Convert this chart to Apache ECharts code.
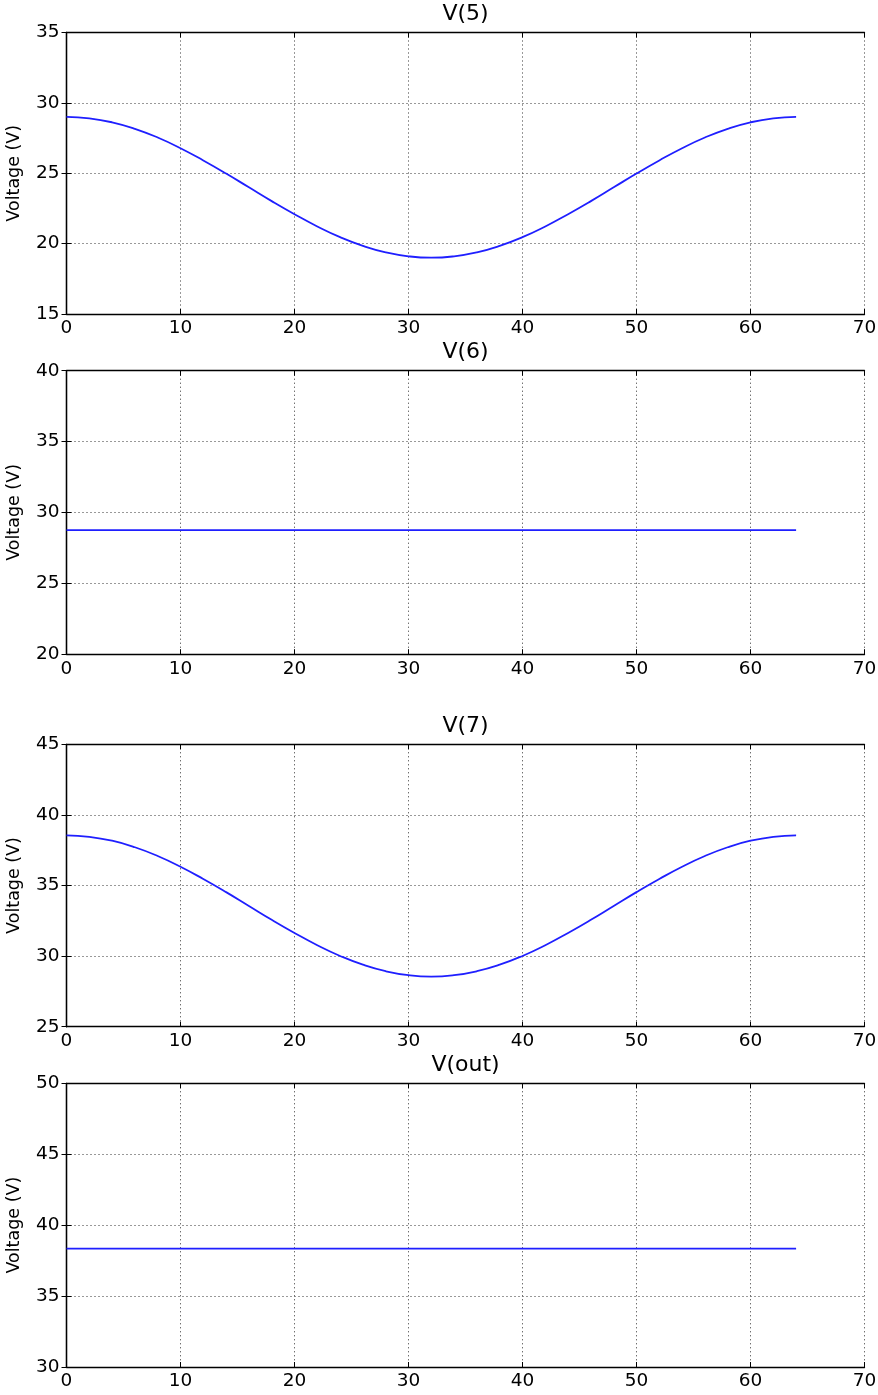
<!DOCTYPE html>
<html>
<head>
<meta charset="utf-8">
<title>Node voltages</title>
<script src="https://cdn.jsdelivr.net/npm/echarts@6/dist/echarts.min.js"></script>
<style>
  html, body { margin: 0; padding: 0; background: #fff; }
  #main { width: 878px; height: 1395px; }
</style>
</head>
<body>
<div id="main"></div>
<script>
// time samples (x axis)
var times = [0, 2, 4, 6, 8, 10, 12, 14, 16, 18, 20, 22, 24, 26, 28, 30, 32,
  34, 36, 38, 40, 42, 44, 46, 48, 50, 52, 54, 56, 58, 60, 62, 64];

// V(5)
var v5 = [29.00, 28.90, 28.62, 28.16, 27.54, 26.78, 25.91, 24.98, 24.00, 23.02,
  22.09, 21.22, 20.46, 19.84, 19.38, 19.10, 19.00, 19.10, 19.38, 19.84, 20.46,
  21.22, 22.09, 23.02, 24.00, 24.98, 25.91, 26.78, 27.54, 28.16, 28.62, 28.90, 29.00];

// V(6)
var v6 = [28.75, 28.75, 28.75, 28.75, 28.75, 28.75, 28.75, 28.75, 28.75, 28.75,
  28.75, 28.75, 28.75, 28.75, 28.75, 28.75, 28.75, 28.75, 28.75, 28.75, 28.75,
  28.75, 28.75, 28.75, 28.75, 28.75, 28.75, 28.75, 28.75, 28.75, 28.75, 28.75, 28.75];

// V(7)
var v7 = [38.55, 38.45, 38.17, 37.71, 37.09, 36.33, 35.46, 34.53, 33.55, 32.57,
  31.64, 30.77, 30.01, 29.39, 28.93, 28.65, 28.55, 28.65, 28.93, 29.39, 30.01,
  30.77, 31.64, 32.57, 33.55, 34.53, 35.46, 36.33, 37.09, 37.71, 38.17, 38.45, 38.55];

// V(out)
var vout = [38.35, 38.35, 38.35, 38.35, 38.35, 38.35, 38.35, 38.35, 38.35, 38.35,
  38.35, 38.35, 38.35, 38.35, 38.35, 38.35, 38.35, 38.35, 38.35, 38.35, 38.35,
  38.35, 38.35, 38.35, 38.35, 38.35, 38.35, 38.35, 38.35, 38.35, 38.35, 38.35, 38.35];

var titles = ['V(5)', 'V(6)', 'V(7)', 'V(out)'];
var yRanges = [[15, 35], [20, 40], [25, 45], [30, 50]];
var xTicks = [0, 70, 10];
var yLabel = 'Voltage (V)';

var chart = echarts.init(document.getElementById('main'));

var font = 'DejaVu Sans';
var panels = [
  { top: 32.5, bottom: 314 },
  { top: 370.7, bottom: 654.2 },
  { top: 744.3, bottom: 1026.7 },
  { top: 1083.3, bottom: 1367 }
];
var seriesData = [v5, v6, v7, vout];

var grid = [], xAxis = [], yAxis = [], series = [], title = [];

panels.forEach(function (p, i) {
  grid.push({
    left: 66.5, right: 13.5, top: p.top, height: p.bottom - p.top,
    containLabel: false, outerBoundsMode: 'none'
  });
  title.push({
    text: titles[i], left: 465.5, top: p.top - 29, textAlign: 'center', padding: 0,
    textStyle: { fontFamily: font, fontSize: 22, fontWeight: 'normal', color: '#000' }
  });

  var axisLine = { show: true, lineStyle: { color: '#000', width: 1.3 } };
  var tick = { show: true, inside: true, length: 5, lineStyle: { color: '#000', width: 1 } };
  var grid_line = { show: true, lineStyle: { color: '#333', width: 1, type: [1, 3] } };

  // bottom x axis
  xAxis.push({
    type: 'value', gridIndex: i, min: xTicks[0], max: xTicks[1], interval: xTicks[2],
    axisLine: axisLine, axisTick: tick, splitLine: grid_line,
    axisLabel: { fontFamily: font, fontSize: 18.5, color: '#000', margin: 5 }
  });
  // top x axis (ticks only)
  xAxis.push({
    type: 'value', gridIndex: i, position: 'top', min: xTicks[0], max: xTicks[1], interval: xTicks[2],
    axisLine: axisLine, axisTick: tick, splitLine: { show: false }, axisLabel: { show: false }
  });
  // left y axis
  yAxis.push({
    type: 'value', gridIndex: i, min: yRanges[i][0], max: yRanges[i][1], interval: 5,
    name: yLabel, nameLocation: 'middle', nameGap: 43,
    nameTextStyle: { fontFamily: font, fontSize: 17.5, color: '#000' },
    axisLine: axisLine, axisTick: tick, splitLine: grid_line,
    axisLabel: { fontFamily: font, fontSize: 18.5, color: '#000', margin: 7 }
  });
  // right y axis (ticks only)
  yAxis.push({
    type: 'value', gridIndex: i, position: 'right', min: yRanges[i][0], max: yRanges[i][1], interval: 5,
    axisLine: axisLine, axisTick: tick, splitLine: { show: false }, axisLabel: { show: false }
  });

  var pts = [];
  for (var k = 0; k < times.length; k++) {
    pts.push([times[k], seriesData[i][k]]);
  }
  series.push({
    type: 'line', xAxisIndex: i * 2, yAxisIndex: i * 2, data: pts,
    showSymbol: false, smooth: true, animation: false,
    lineStyle: { color: '#1f1fff', width: 1.8 }
  });
});

chart.setOption({
  backgroundColor: '#fff',
  animation: false,
  title: title,
  grid: grid,
  xAxis: xAxis,
  yAxis: yAxis,
  series: series
});
</script>
</body>
</html>
